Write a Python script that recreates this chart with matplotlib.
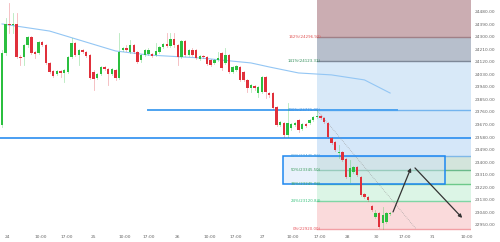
import matplotlib
matplotlib.use("Agg")
import matplotlib.pyplot as plt
from matplotlib.patches import Rectangle

# candles: open, high, low, close
opens = [23667, 24183, 24392, 24384, 24392, 24155, 24155, 24241, 24298, 24191,
         24183, 24262, 24241, 24112, 24054, 24033, 24054, 24040, 24047, 24155,
         24255, 24169, 24205, 24191, 24169, 24047, 24004, 24033, 24083, 24069,
         24033, 24061, 24004, 24205, 24219, 24191, 24241, 24191, 24133, 24169,
         24176, 24176, 24169, 24191, 24227, 24248, 24234, 24284, 24241, 24155,
         24270, 24169, 24205, 24205, 24140, 24162, 24155, 24133, 24112, 24133,
         24183, 24112, 24169, 24047, 24061, 24083, 24047, 23990, 23932, 23947,
         23896, 23903, 24011, 23896, 23896, 23796, 23667, 23681, 23595, 23645,
         23667, 23702, 23638, 23674, 23681, 23702, 23724, 23731, 23717, 23681,
         23573, 23544, 23465, 23473, 23422, 23293, 23329, 23365, 23293, 23171,
         23150, 23085, 23006, 23035, 22963, 22970, 23028]
highs = [24205, 24435, 24542, 24471, 24471, 24169, 24248, 24306, 24306, 24198,
         24270, 24270, 24248, 24119, 24061, 24061, 24061, 24069, 24162, 24291,
         24262, 24212, 24212, 24198, 24176, 24061, 24040, 24090, 24090, 24076,
         24076, 24069, 24327, 24227, 24241, 24277, 24248, 24198, 24176, 24212,
         24219, 24183, 24255, 24234, 24255, 24327, 24327, 24327, 24248, 24277,
         24277, 24212, 24219, 24212, 24169, 24169, 24162, 24140, 24140, 24191,
         24191, 24219, 24176, 24090, 24097, 24090, 24054, 23997, 23961, 23954,
         23947, 24018, 24018, 23903, 23903, 23803, 23695, 23688, 23824, 23681,
         23688, 23710, 23681, 23681, 23710, 23731, 23771, 23738, 23724, 23688,
         23580, 23552, 23523, 23480, 23430, 23415, 23372, 23372, 23300, 23178,
         23157, 23092, 23056, 23042, 23078, 23042, 23042]
lows = [23652, 24169, 24327, 24327, 24148, 24097, 24097, 24227, 24176, 24148,
        24176, 24234, 24105, 24040, 24011, 24026, 24011, 23975, 24040, 24148,
        24162, 24097, 24183, 24155, 23997, 23918, 23997, 24026, 24061, 23954,
        24026, 23990, 23997, 24198, 24198, 24183, 24183, 24112, 24119, 24162,
        24169, 24155, 24162, 24183, 24219, 24227, 24227, 24227, 24097, 24148,
        24162, 24162, 24162, 24140, 24133, 24148, 24097, 24090, 24105, 24126,
        24061, 24105, 24040, 24040, 24054, 23982, 23982, 23903, 23903, 23918,
        23868, 23896, 23860, 23868, 23781, 23659, 23659, 23580, 23580, 23631,
        23659, 23616, 23631, 23652, 23674, 23695, 23717, 23710, 23681, 23573,
        23530, 23480, 23430, 23408, 23286, 23257, 23322, 23300, 23157, 23142,
        23121, 23049, 22999, 22927, 22920, 22963, 23020]
closes = [24183, 24392, 24384, 24392, 24155, 24148, 24241, 24298, 24183, 24176,
          24262, 24241, 24112, 24047, 24018, 24054, 24040, 24061, 24155, 24255,
          24169, 24205, 24191, 24162, 24004, 23997, 24033, 24083, 24069, 24033,
          24069, 24004, 24191, 24219, 24205, 24241, 24191, 24119, 24169, 24205,
          24205, 24162, 24198, 24227, 24248, 24234, 24284, 24241, 24155, 24270,
          24169, 24205, 24169, 24148, 24162, 24155, 24105, 24097, 24133, 24148,
          24076, 24169, 24047, 24083, 24090, 23990, 23990, 23932, 23954, 23932,
          23939, 24011, 23903, 23882, 23789, 23667, 23688, 23595, 23681, 23674,
          23681, 23631, 23674, 23659, 23702, 23724, 23731, 23717, 23688, 23580,
          23537, 23487, 23473, 23415, 23293, 23358, 23365, 23307, 23164, 23150,
          23128, 23056, 23035, 22934, 23020, 23035, 23035]

# moving average (bar index, value)
ma_idx = [0, 13, 31, 40, 54, 68, 73, 81, 90, 99, 106]
ma_val = [24392, 24341, 24198, 24169, 24148, 24112, 24083, 24040, 24026, 23990, 23896]

# fibonacci retracement
fib_low = 22920.0
fib_high = 23771.0
fib_start = 86.1
fib_levels = [0, 0.236, 0.382, 0.5, 0.618, 1.0, 1.414, 1.618]
fib_fill = ['#fadadb', '#dcf5e6', '#d2f0d9', '#d3e4db', '#d5e7f9', '#d8e9f8', '#b7bfcc', '#cbadb2']
fib_line = ['#f2a0a5', '#7fd6a5', '#6cc98a', '#6ab98a', '#7fb8e8', '#74b4ee', '#7d8898', '#a08087']
fib_text = ['#e8525a', '#33c17a', '#3aa86a', '#3a9a5a', '#4aa0d8', '#3d8fe0', '#2e8b57', '#e05050']

support = 23573
resist_from, resist_to = 39.9, 107.9

box_x = (76.8, 121.0)

path1 = ([106.8, 111.7], [23042, 23358])
path2 = ([112.8, 125.7], [23358, 22999])

tick_pos = [1.6, 10.7, 17.8, 25.1, 33.6, 40.2, 47.8, 56.8, 63.9, 71, 79.5, 86.9,
            94.3, 102.2, 110.1, 117.5, 127]
tick_lab = ['24', '10:00', '17:00', '25', '10:00', '17:00', '26', '10:00', '17:00',
            '27', '10:00', '17:00', '28', '30', '17:00', '31', '10:00']
yticks = list(range(22950, 24481, 90))

fig = plt.figure(figsize=(5, 2.42), dpi=100)
ax = fig.add_axes([0, 11 / 242, 471 / 500, 231 / 242])
xmin, xmax = -0.55, 128.1
ymin, ymax = 22905, 24564
ax.set_xlim(xmin, xmax)
ax.set_ylim(ymin, ymax)

# fib zones
diff = fib_high - fib_low
vals = [fib_low + diff * l for l in fib_levels]
tops = vals[1:] + [ymax]
for i, v in enumerate(vals):
    ax.add_patch(Rectangle((fib_start, v), xmax - fib_start, tops[i] - v,
                           color=fib_fill[i], lw=0, zorder=0))
    ax.plot([fib_start, xmax], [v, v], color=fib_line[i], lw=1, zorder=1)
    pct = int(round(fib_levels[i] * 100))
    ax.text(fib_start + 1.0, v, f"{pct}%({v:.2f})", fontsize=2.8, color=fib_text[i],
            ha='right', va='center', zorder=5)

# box
lo_b = fib_low + diff * 0.382
hi_b = fib_low + diff * 0.618
ax.add_patch(Rectangle((box_x[0], lo_b), box_x[1] - box_x[0], hi_b - lo_b,
                       facecolor='#cfe3fa', alpha=0.45, edgecolor='none', zorder=2))
ax.add_patch(Rectangle((box_x[0], lo_b), box_x[1] - box_x[0], hi_b - lo_b,
                       facecolor='none', edgecolor='#1e88f0', lw=1.1, zorder=4))

# lines
ax.axhline(support, color='#2a8df0', lw=1.2, zorder=3)
ax.plot([resist_from, resist_to], [fib_high, fib_high], color='#4da3f0', lw=1.4, zorder=3)
ax.plot(ma_idx, ma_val, color='#93c6f4', lw=0.8, zorder=3)
ax.plot([fib_start, 113.1], [fib_high, fib_low], color='#999999', lw=0.5, ls=':', zorder=3)

# candles
for i in range(len(opens)):
    o, h, l, c = opens[i], highs[i], lows[i], closes[i]
    col = '#2bbf3f' if c >= o else '#e0303b'
    ax.plot([i, i], [l, h], color=col, lw=0.6, alpha=0.35, zorder=5)
    ax.add_patch(Rectangle((i - 0.33, min(o, c)), 0.66, max(abs(c - o), 4),
                           color=col, lw=0, zorder=6))

# projected path
for xs, ys in (path1, path2):
    ax.annotate('', xy=(xs[1], ys[1]), xytext=(xs[0], ys[0]),
                arrowprops=dict(arrowstyle='-|>', color='#333333', lw=0.9,
                                mutation_scale=5, shrinkA=0, shrinkB=0), zorder=7)

ax.yaxis.tick_right()
ax.set_yticks(yticks)
ax.set_yticklabels([f"{t:.2f}" for t in yticks], fontsize=3.2, color='#666666')
ax.set_xticks(tick_pos)
ax.set_xticklabels(tick_lab, fontsize=3.2, color='#666666')
ax.tick_params(length=0, pad=3)
for s in ax.spines.values():
    s.set_visible(False)

fig.savefig('out.png', dpi=100)
